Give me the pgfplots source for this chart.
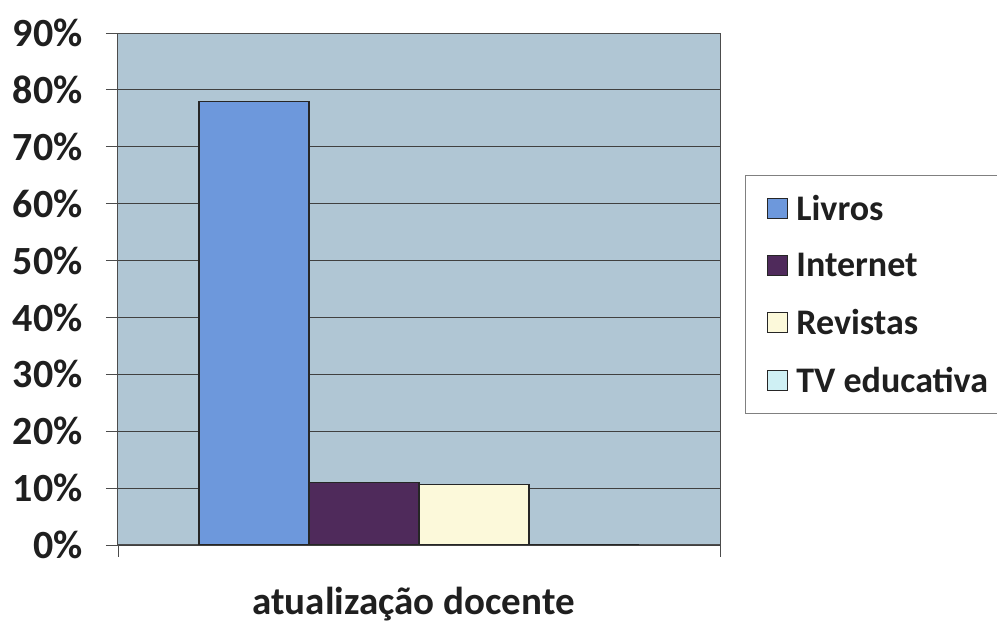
\documentclass[border=0pt]{standalone}
\usepackage{pgfplots}
\pgfplotsset{compat=1.18}
\usepackage{fontspec}
\setmainfont{Carlito}
\definecolor{bg}{HTML}{B0C6D4}
\definecolor{livros}{HTML}{6D98DC}
\definecolor{internet}{HTML}{4F2A5B}
\definecolor{revistas}{HTML}{FCF9DA}
\definecolor{tv}{HTML}{CFF0F4}
\begin{document}
\begin{tikzpicture}
\path[use as bounding box] (-118pt,-78pt) rectangle (879pt,545pt);
\begin{axis}[
  at={(0pt,0pt)}, anchor=south west,
  scale only axis, width=602pt, height=512pt,
  ybar=0pt, bar width=110pt,
  xmin=-0.5, xmax=0.5, ymin=0, ymax=90,
  ytick={0,10,...,90},
  yticklabel={\pgfmathprintnumber{\tick}\%},
  /pgf/number format/assume math mode=true,
  xtick={-0.5,0.5}, xticklabels={},
  xtick pos=bottom, ytick pos=left,
  tick align=outside, major tick length=12pt,
  tick style={black!70, line width=0.8pt},
  ymajorgrids, major grid style={black!75, line width=0.9pt},
  axis background/.style={fill=bg},
  axis line style={black!70, line width=1pt},
  ticklabel style={font=\bfseries\fontsize{40}{44}\selectfont, text=black!88},
  yticklabel style={xshift=-20pt},
  xlabel={atualização docente},
  xlabel style={at={(axis description cs:0.491,-0.1367)}, anchor=base, font=\bfseries\fontsize{39}{44}\selectfont, text=black!88},
  legend style={at={(axis description cs:1.0415,0.7227)}, anchor=north west, draw=black!50, line width=0.8pt,
    font=\bfseries\fontsize{36}{40}\selectfont, text=black!88, cells={anchor=west}, row sep=27pt,
    inner xsep=22pt, inner ysep=18pt,
    /tikz/every odd column/.append style={column sep=6pt}},
  legend image code/.code={\draw[#1,draw=black!85,line width=1pt] (0pt,-10pt) rectangle (20pt,10pt);},
  every axis plot/.append style={draw=black!85, line width=1.2pt},
]
\addplot[fill=livros] coordinates {(0,78)};
\addplot[fill=internet] coordinates {(0,11)};
\addplot[fill=revistas] coordinates {(0,10.7)};
\addplot[fill=tv] coordinates {(0,0)};
\legend{Livros,Internet,Revistas,TV educativa}
\end{axis}
\end{tikzpicture}
\end{document}
